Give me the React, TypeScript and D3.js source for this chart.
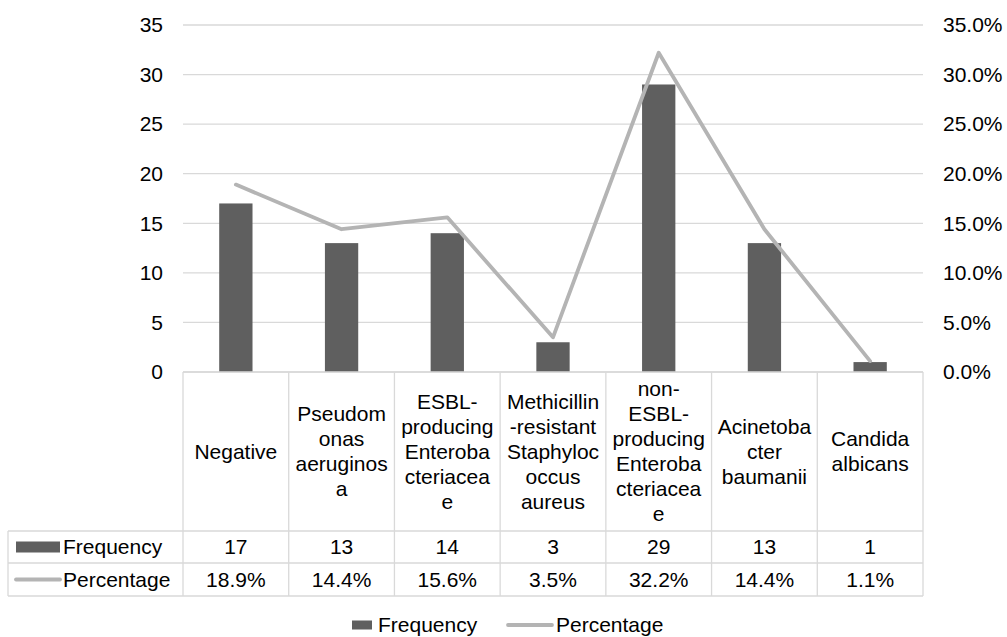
import React from "react";
import * as d3 from "d3";

const categories = [
  "Negative",
  "Pseudomonas aeruginosa",
  "ESBL-producing Enterobacteriaceae",
  "Methicillin-resistant Staphylococcus aureus",
  "non-ESBL-producing Enterobacteriaceae",
  "Acinetobacter baumanii",
  "Candida albicans",
];
const categoryLines = [
  ["Negative"],
  ["Pseudom", "onas", "aeruginos", "a"],
  ["ESBL-", "producing", "Enteroba", "cteriacea", "e"],
  ["Methicillin", "-resistant", "Staphyloc", "occus", "aureus"],
  ["non-", "ESBL-", "producing", "Enteroba", "cteriacea", "e"],
  ["Acinetoba", "cter", "baumanii"],
  ["Candida", "albicans"],
];
const frequency = [17, 13, 14, 3, 29, 13, 1];
const percentage = [0.189, 0.144, 0.156, 0.035, 0.322, 0.144, 0.011];
const leftTicks = [0, 5, 10, 15, 20, 25, 30, 35];
const rightTicks = [0, 0.05, 0.1, 0.15, 0.2, 0.25, 0.3, 0.35];

const W = 1007;
const H = 637;
const FONT = "'Liberation Sans', Arial, sans-serif";
const FS = 21;
const BAR = "#5f5f5f";
const LINE = "#b4b4b4";
const GRID = "#d9d9d9";

export default function App() {
  const left = 183;
  const right = 923;
  const top = 25;
  const bottom = 372;
  const x = d3.scaleBand<string>().domain(categories).range([left, right]).paddingInner(0).paddingOuter(0);
  const y = d3.scaleLinear().domain([0, 35]).range([bottom, top]);
  const yR = d3.scaleLinear().domain([0, 0.35]).range([bottom, top]);
  const bw = x.bandwidth() * 0.315;
  const cx = (c: string) => (x(c) as number) + x.bandwidth() / 2;
  const lineGen = d3
    .line<number>()
    .x((_, i) => cx(categories[i]))
    .y((d) => yR(d));
  const pctFmt = d3.format(".1%");

  const headerBottom = 531;
  const freqBottom = 563;
  const pctBottom = 596;
  const tableLeft = 8;
  const lineH = 25;

  return (
    <svg width={W} height={H} style={{ position: "absolute", left: 0, top: 0 }} fontFamily={FONT} fontSize={FS}>
      <rect x={0} y={0} width={W} height={H} fill="#fff" />
      {/* gridlines */}
      {leftTicks.map((t) => (
        <line key={"g" + t} x1={left} x2={right} y1={y(t)} y2={y(t)} stroke={GRID} strokeWidth={1.3} />
      ))}
      {/* left ticks */}
      {leftTicks.map((t) => (
        <text key={"l" + t} x={163} y={y(t)} dy="0.35em" textAnchor="end" fill="#000">
          {t}
        </text>
      ))}
      {/* right ticks */}
      {rightTicks.map((t) => (
        <text key={"r" + t} x={943} y={yR(t)} dy="0.35em" textAnchor="start" fill="#000">
          {pctFmt(t)}
        </text>
      ))}
      {/* bars */}
      {categories.map((c, i) => (
        <rect key={"b" + c} x={cx(c) - bw / 2} y={y(frequency[i])} width={bw} height={y(0) - y(frequency[i])} fill={BAR} />
      ))}
      {/* line */}
      <path d={lineGen(percentage) || ""} fill="none" stroke={LINE} strokeWidth={3.8} strokeLinejoin="round" strokeLinecap="round" />

      {/* data table */}
      <g stroke={GRID} strokeWidth={1.3}>
        <line x1={left} x2={right} y1={bottom} y2={bottom} />
        <line x1={tableLeft} x2={right} y1={headerBottom} y2={headerBottom} />
        <line x1={tableLeft} x2={right} y1={freqBottom} y2={freqBottom} />
        <line x1={tableLeft} x2={right} y1={pctBottom} y2={pctBottom} />
        <line x1={tableLeft} x2={tableLeft} y1={headerBottom} y2={pctBottom} />
        {categories.map((c) => (
          <line key={"v" + c} x1={x(c) as number} x2={x(c) as number} y1={bottom} y2={pctBottom} />
        ))}
        <line x1={right} x2={right} y1={bottom} y2={pctBottom} />
      </g>
      {categories.map((c, i) => {
        const lines = categoryLines[i];
        const mid = (bottom + headerBottom) / 2;
        const start = mid - ((lines.length - 1) * lineH) / 2;
        return (
          <text key={"h" + c} textAnchor="middle" fill="#000">
            {lines.map((ln, j) => (
              <tspan key={j} x={cx(c)} y={start + j * lineH} dy="0.35em">
                {ln}
              </tspan>
            ))}
          </text>
        );
      })}
      {categories.map((c, i) => (
        <text key={"f" + c} x={cx(c)} y={(headerBottom + freqBottom) / 2} dy="0.35em" textAnchor="middle" fill="#000">
          {frequency[i]}
        </text>
      ))}
      {categories.map((c, i) => (
        <text key={"p" + c} x={cx(c)} y={(freqBottom + pctBottom) / 2} dy="0.35em" textAnchor="middle" fill="#000">
          {pctFmt(percentage[i])}
        </text>
      ))}
      {/* table legend keys */}
      <rect x={16} y={(headerBottom + freqBottom) / 2 - 5.5} width={44} height={11} fill={BAR} />
      <text x={63} y={(headerBottom + freqBottom) / 2} dy="0.35em" fill="#000">
        Frequency
      </text>
      <line x1={16} x2={60} y1={(freqBottom + pctBottom) / 2} y2={(freqBottom + pctBottom) / 2} stroke={LINE} strokeWidth={3.8} strokeLinecap="round" />
      <text x={63} y={(freqBottom + pctBottom) / 2} dy="0.35em" fill="#000">
        Percentage
      </text>

      {/* legend */}
      <rect x={352} y={620.5} width={20} height={9} fill={BAR} />
      <text x={378} y={625} dy="0.35em" fill="#000">
        Frequency
      </text>
      <line x1={508} x2={552} y1={625} y2={625} stroke={LINE} strokeWidth={3.8} strokeLinecap="round" />
      <text x={556} y={625} dy="0.35em" fill="#000">
        Percentage
      </text>
    </svg>
  );
}
